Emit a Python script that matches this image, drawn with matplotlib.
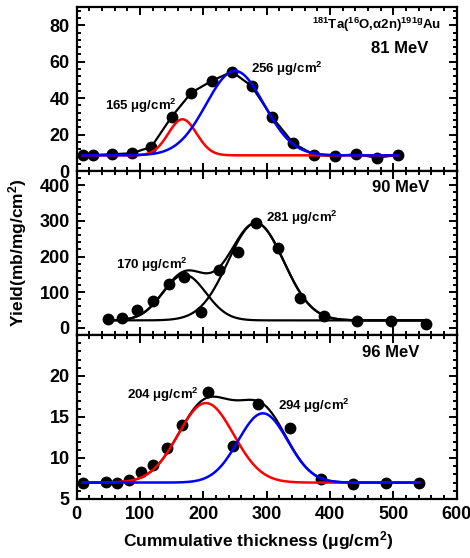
import matplotlib
matplotlib.use("Agg")
import matplotlib.pyplot as plt
import numpy as np
from matplotlib.ticker import AutoMinorLocator

plt.rcParams["font.family"]=["Liberation Sans","DejaVu Sans"]
plt.rcParams["font.weight"]="bold"
plt.rcParams["mathtext.fontset"]="custom"
plt.rcParams["mathtext.rm"]="Liberation Sans:bold"
plt.rcParams["mathtext.it"]="Liberation Sans:bold"
plt.rcParams["mathtext.bf"]="Liberation Sans:bold"
plt.rcParams["mathtext.default"]="rm"

# 181Ta(16O,a2n)191gAu yields vs cumulative thickness
thick_81=[10,26,55,87,118,150,181,213,245,276,308,342,375,408,441,474,507]
yield_81=[8.8,8.8,9.2,9.7,13.3,29.8,43.0,49.4,54.5,46.7,29.8,15.2,8.8,8.2,9.2,7.3,8.8]
thick_90=[49,71,95,120,145,170,197,225,254,283,318,353,390,443,497,551]
yield_90=[25,27,50,74,124,144,44,161,214,293,223,85,32,18,20,11]
thick_96=[10,46,64,83,101,121,142,166,208,246,286,336,386,436,489,541]
yield_96=[7.0,7.1,6.9,7.3,8.3,9.1,11.2,14.0,18.0,11.5,16.6,13.7,7.4,6.8,7.0,7.0]

# gaussian fit components: (centre, amplitude, sigma), plus flat baseline
base_81=8.6;peaks_81=[(167,19.8,22.3),(250,46.3,45.6)]
base_90=21.0;peaks_90=[(170,128,34),(283,273,44)]
base_96=7.0;peaks_96=[(204,9.7,43.7),(294,8.45,39)]

energies=["81 MeV","90 MeV","96 MeV"]
peak_labels=[["165","256"],["170","281"],["204","294"]]


def gauss(x,c,a,s):
    return a*np.exp(-(x-c)**2/(2*s*s))


def style(ax,ylim,yticks):
    ax.set_xlim(0,600);ax.set_ylim(*ylim);ax.set_yticks(yticks);ax.set_xticks(range(0,601,100))
    ax.xaxis.set_minor_locator(AutoMinorLocator(5));ax.yaxis.set_minor_locator(AutoMinorLocator(5))
    ax.tick_params(which="both",direction="in",top=True,right=True,width=1.4,labelsize=13)
    ax.tick_params(which="major",length=6,pad=5);ax.tick_params(which="minor",length=3.2)
    for sp in ax.spines.values():sp.set_linewidth(1.6)


fig=plt.figure(figsize=(4.7,5.58),dpi=100)
L,W,H=76.7/470,380/470,164/558
ax1=fig.add_axes([L,1-171/558,W,H]);ax2=fig.add_axes([L,1-335/558,W,H]);ax3=fig.add_axes([L,1-499/558,W,H])

# 81 MeV
x=np.linspace(thick_81[0],thick_81[-1],400)
ax1.plot(thick_81,yield_81,color="black",lw=1.6,zorder=2)
ax1.plot(thick_81,yield_81,"o",color="black",ms=7.5,zorder=3)
ax1.plot(x,base_81+gauss(x,*peaks_81[0]),color="#ff0000",lw=1.8,zorder=4)
ax1.plot(x,base_81+gauss(x,*peaks_81[1]),color="#0000ff",lw=1.8,zorder=5)
style(ax1,(0,90),[0,20,40,60,80]);ax1.tick_params(labelbottom=False)
ax1.text(0.958,0.89,"$^{181}$Ta($^{16}$O,\u03b12n)$^{191g}$Au",transform=ax1.transAxes,ha="right",va="center",fontsize=9.5)
ax1.text(0.925,0.744,energies[0],transform=ax1.transAxes,ha="right",va="center",fontsize=12)
ax1.text(45,35.7,peak_labels[0][0]+" \u03bcg/cm$^2$",ha="left",va="center",fontsize=9.5)
ax1.text(275,56,peak_labels[0][1]+" \u03bcg/cm$^2$",ha="left",va="center",fontsize=9.5)

# 90 MeV
x=np.linspace(thick_90[0],thick_90[-1],400)
ax2.plot(x,base_90+gauss(x,*peaks_90[0]),color="black",lw=1.6,zorder=2)
ax2.plot(x,base_90+gauss(x,*peaks_90[1]),color="black",lw=1.6,zorder=2)
ax2.plot(x,base_90+gauss(x,*peaks_90[0])+gauss(x,*peaks_90[1]),color="black",lw=1.6,zorder=2)
ax2.plot(thick_90,yield_90,"o",color="black",ms=7.5,zorder=3)
style(ax2,(-20,440),[0,100,200,300,400]);ax2.tick_params(labelbottom=False)
ax2.text(0.927,0.9,energies[1],transform=ax2.transAxes,ha="right",va="center",fontsize=12)
ax2.text(62,177,peak_labels[1][0]+" \u03bcg/cm$^2$",ha="left",va="center",fontsize=9.5)
ax2.text(299,308,peak_labels[1][1]+" \u03bcg/cm$^2$",ha="left",va="center",fontsize=9.5)

# 96 MeV
x=np.linspace(thick_96[0],thick_96[-1],400)
ax3.plot(x,base_96+gauss(x,*peaks_96[0])+gauss(x,*peaks_96[1]),color="black",lw=1.6,zorder=2)
ax3.plot(thick_96,yield_96,"o",color="black",ms=7.5,zorder=3)
ax3.plot(x,base_96+gauss(x,*peaks_96[0]),color="#ff0000",lw=1.8,zorder=4)
ax3.plot(x,base_96+gauss(x,*peaks_96[1]),color="#0000ff",lw=1.8,zorder=5)
style(ax3,(5,25),[5,10,15,20])
ax3.text(0.903,0.892,energies[2],transform=ax3.transAxes,ha="right",va="center",fontsize=12)
ax3.text(80,17.7,peak_labels[2][0]+" \u03bcg/cm$^2$",ha="left",va="center",fontsize=9.5)
ax3.text(318,16.3,peak_labels[2][1]+" \u03bcg/cm$^2$",ha="left",va="center",fontsize=9.5)

fig.text(18/470,1-253/558,"Yield(mb/mg/cm$^2$)",rotation=90,ha="center",va="center",fontsize=12.5)
fig.text(258/470,1-541/558,"Cummulative thickness (\u03bcg/cm$^2$)",ha="center",va="center",fontsize=12.5)
fig.savefig("out.png",dpi=100)
